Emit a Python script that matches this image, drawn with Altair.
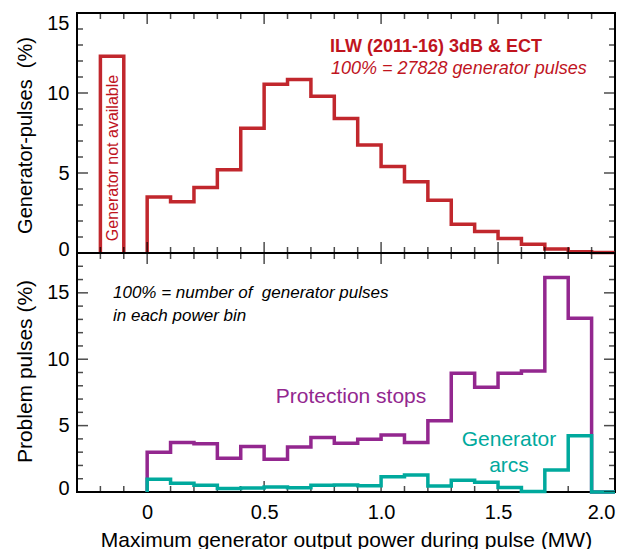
import altair as alt
import numpy as np
import pandas as pd

# ---------------- data ----------------
bin_edges = [round(0.1 * i, 1) for i in range(21)]          # 0.0 ... 2.0 MW
gen_pulses_pct = [3.5, 3.2, 4.1, 5.2, 7.8, 10.55, 10.85, 9.8, 8.4, 6.75,
                  5.4, 4.45, 3.3, 1.8, 1.35, 0.9, 0.55, 0.25, 0.08, 0.03]
not_avail_edges = [-0.2, -0.1]
not_avail_pct = 12.3
protection_pct = [3.0, 3.72, 3.64, 2.55, 3.42, 2.47, 3.38, 4.1, 3.67, 3.97,
                  4.3, 3.72, 5.37, 8.94, 7.89, 8.94, 9.12, 16.15, 13.09, 0.0]
arcs_pct = [0.96, 0.65, 0.5, 0.26, 0.3, 0.38, 0.32, 0.5, 0.52, 0.47,
            1.15, 1.28, 0.45, 0.88, 0.73, 0.33, 0.03, 1.66, 4.24, 0.0]

x_major = [0, 0.5, 1.0, 1.5, 2.0]
x_minor = [round(v, 1) for v in np.arange(-0.2, 2.0, 0.1) if round(v * 10) % 5 != 0]
top_major = [0, 5, 10, 15]
top_minor = [v for v in range(1, 15) if v % 5 != 0]
bot_major = [0, 5, 10, 15]
bot_minor = [v for v in range(1, 18) if v % 5 != 0]

RED = "#c1272d"
RED_TXT = "#c0141e"
PURPLE = "#93278f"
TEAL = "#00a99d"
FONT = "Liberation Sans"
NBSP = "\u00a0"

W, H = 538, 479
H_TOP = 240


def steps(edges, vals, name):
    rows = [{"x": edges[0], "y": 0.0, "i": 0, "s": name}]
    for k, v in enumerate(vals):
        rows.append({"x": edges[k + 1], "y": v, "i": k + 1, "s": name})
    return rows


top_rows = steps(bin_edges, gen_pulses_pct, "main")
na = [{"x": not_avail_edges[0], "y": 0.0, "i": 0, "s": "na"},
      {"x": not_avail_edges[1], "y": not_avail_pct, "i": 1, "s": "na"},
      {"x": not_avail_edges[1], "y": 0.0, "i": 2, "s": "na"}]
df_top = pd.DataFrame(top_rows + na)
df_prot = pd.DataFrame(steps(bin_edges, protection_pct, "prot"))
df_arcs = pd.DataFrame(steps(bin_edges, arcs_pct, "arcs"))

# ---------------- scales / axes ----------------
common_axis = dict(grid=False, domain=False, ticks=False, tickSize=0,
                   labelFont=FONT, titleFont=FONT, labelColor="black",
                   titleColor="black", titleFontWeight="normal", labelFontSize=20)
zero_shift = {"condition": {"test": "datum.value == 0", "value": 6}, "value": 0}

xscale = alt.Scale(domain=[-0.3, 2.0], nice=False, zero=False)
xaxis = alt.Axis(values=x_major,
                 labelExpr="datum.value == 0 ? '0' : format(datum.value, '.1f')",
                 labelFlush=True, labelPadding=10,
                 title="Maximum generator output power during pulse (MW)",
                 titleFontSize=21, titleBaseline="alphabetic", titleY=54, **common_axis)
ytop_scale = alt.Scale(domain=[0, 15], range=[H_TOP, 0], nice=False, zero=False)
ybot_scale = alt.Scale(domain=[0, 18], range=[H, H_TOP], nice=False, zero=False)
ytop_axis = alt.Axis(orient="left", values=top_major, labelFlush=True, labelPadding=8,
                     labelOffset=zero_shift,
                     title="Generator-pulses" + NBSP + " (%)", titleFontSize=20,
                     titleAngle=270, titleBaseline="middle", titleX=-52, titleY=122,
                     **common_axis)
ybot_axis = alt.Axis(orient="left", values=bot_major, labelFlush=True, labelPadding=8,
                     labelOffset=zero_shift,
                     title="Problem pulses (%)", titleFontSize=21,
                     titleAngle=270, titleBaseline="middle", titleX=-52, titleY=358,
                     **common_axis)

X = lambda f: alt.X(f, type="quantitative", scale=xscale, axis=xaxis)
YT = lambda f: alt.Y(f, type="quantitative", scale=ytop_scale, axis=ytop_axis)
YB = lambda f: alt.Y(f, type="quantitative", scale=ybot_scale, axis=ybot_axis)


def xticks(vals, ypix, size):
    return alt.Chart(pd.DataFrame({"x": vals})).mark_tick(
        color="black", size=size, thickness=1.5, clip=True, orient="vertical"
    ).encode(x=X("x"), y=alt.value(ypix))


def yticks(vals, Yf, xpix, size):
    return alt.Chart(pd.DataFrame({"y": vals})).mark_tick(
        color="black", size=size, thickness=1.5, clip=True, orient="horizontal"
    ).encode(y=Yf("y"), x=alt.value(xpix))


def text(t, x, y, color, size, weight="normal", style="normal", angle=0,
         align="left", baseline="alphabetic"):
    return alt.Chart(pd.DataFrame({"a": [0]})).mark_text(
        text=t, color=color, fontSize=size, fontWeight=weight, fontStyle=style,
        font=FONT, angle=angle, align=align, baseline=baseline
    ).encode(x=alt.value(x), y=alt.value(y))


# ---------------- top panel ----------------
top_line = alt.Chart(df_top).mark_line(
    color=RED, strokeWidth=3.5, interpolate="step-before", strokeJoin="miter"
).encode(x=X("x"), y=YT("y"), detail="s:N", order="i:Q")

boundary = alt.Chart(pd.DataFrame({"a": [0]})).mark_rule(
    color="black", strokeWidth=2
).encode(y=alt.YDatum(0, type="quantitative", scale=ytop_scale, axis=ytop_axis))

top_layers = [
    top_line, boundary,
    yticks(top_minor, YT, 0, 12), yticks(top_major, YT, 0, 22),
    yticks(top_minor, YT, W, 12), yticks(top_major, YT, W, 22),
    text("ILW (2011-16) 3dB & ECT", 253, 39, RED_TXT, 18, weight="bold"),
    text("100% = 27828 generator pulses", 254, 61, RED_TXT, 18, style="italic"),
    text("Generator not available", 36, 145, RED_TXT, 16, angle=270,
         align="center", baseline="middle"),
]
top = alt.layer(*top_layers)

# ---------------- bottom panel ----------------
prot_line = alt.Chart(df_prot).mark_line(
    color=PURPLE, strokeWidth=3.5, interpolate="step-before", strokeJoin="miter"
).encode(x=X("x"), y=YB("y"), order="i:Q")
arcs_line = alt.Chart(df_arcs).mark_line(
    color=TEAL, strokeWidth=3.5, interpolate="step-before", strokeJoin="miter"
).encode(x=X("x"), y=YB("y"), order="i:Q")

bot_layers = [
    prot_line, arcs_line,
    yticks(bot_minor, YB, 0, 12), yticks(bot_major, YB, 0, 22),
    yticks(bot_minor, YB, W, 12), yticks(bot_major, YB, W, 22),
    text("100% = number of" + NBSP + " generator pulses", 36, 285, "black", 17, style="italic"),
    text("in each power bin", 36, 308, "black", 17, style="italic"),
    text("Protection stops", 274, 384, PURPLE, 21, align="center", baseline="middle"),
    text("Generator", 432, 427, TEAL, 21, align="center", baseline="middle"),
    text("arcs", 432, 453, TEAL, 21, align="center", baseline="middle"),
]
bottom = alt.layer(*bot_layers)

# ---------------- x ticks (shared x) ----------------
x_layers = [
    xticks(x_minor, 0, 12), xticks(x_major, 0, 22),
    xticks(x_minor, H_TOP, 12), xticks(x_major, H_TOP, 22),
    xticks(x_minor, H, 12), xticks(x_major, H, 22),
]

chart = alt.layer(
    alt.layer(top, *x_layers), bottom
).resolve_scale(y="independent").properties(
    width=W, height=H,
    padding={"left": 77, "top": 13, "right": 13, "bottom": 57},
    autosize=alt.AutoSizeParams(type="none"),
    background="white",
).configure_view(
    stroke="black", strokeWidth=2
).configure_axis(
    domain=False, ticks=False, tickSize=0, grid=False,
    labelFont=FONT, titleFont=FONT, labelColor="black", titleColor="black",
    titleFontWeight="normal",
)

chart.save("out.html", embed_options={"renderer": "svg", "actions": False})
